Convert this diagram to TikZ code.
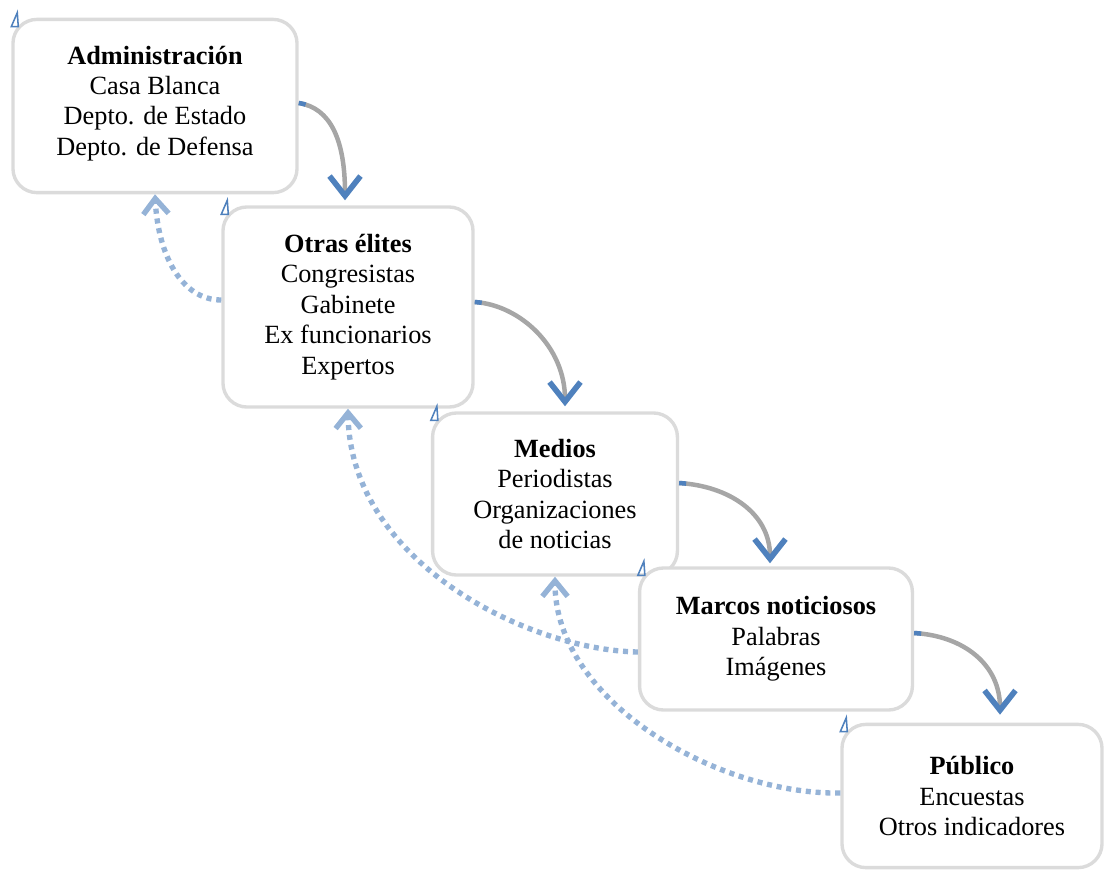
\documentclass[tikz,border=0pt]{standalone}
\usepackage{fontspec}
\setmainfont{Liberation Serif}
\usetikzlibrary{arrows.meta,calc}
\definecolor{accent}{HTML}{4F81BD}
\definecolor{soft}{HTML}{95B3D7}
\definecolor{flowgray}{HTML}{A6A6A6}

\begin{document}
\begin{tikzpicture}[x=0.025cm,y=-0.025cm,
  box/.style={draw=black!14,line width=2.4pt,rounded corners=0.6cm,fill=white,align=center,inner sep=0pt,font=\fontsize{18.7}{21.6}\selectfont},
  flow/.style={flowgray,line width=3.2pt,-{Straight Barb[color=accent,length=14pt,width=22pt,line width=4pt]},
    postaction={draw=accent,dash pattern=on 5pt off 2000pt,-}},
  back/.style={soft,line width=3.8pt,dash pattern=on 3.6pt off 3.4pt,-{Straight Barb[length=11pt,width=18pt,line width=3.8pt]}},
  anchormark/.style={accent,line width=1.1pt,line join=miter}]
\useasboundingbox (0,0) rectangle (1113,870);

\node[box,minimum width=7.1cm,minimum height=4.33cm] (adm) at (155,106) {\textbf{Administración}\\Casa Blanca\\Depto. de Estado\\Depto. de Defensa\\[-14pt]};
\node[box,minimum width=6.25cm,minimum height=5cm] (eli) at (348,307) {\textbf{Otras élites}\\Congresistas\\Gabinete\\Ex funcionarios\\Expertos};
\node[box,minimum width=6.12cm,minimum height=4.05cm] (med) at (555,494) {\textbf{Medios}\\Periodistas\\Organizaciones\\de noticias};
\node[box,minimum width=6.82cm,minimum height=3.55cm] (mar) at (776,639) {\textbf{Marcos noticiosos}\\Palabras\\Imágenes};
\node[box,minimum width=6.5cm,minimum height=3.58cm] (pub) at (972,796) {\textbf{Público}\\Encuestas\\Otros indicadores};

\foreach \n in {adm,eli,med,mar,pub}
  \draw[anchormark] ($(\n.north west)+(0,9)$) -- ++(7,0) -- ++(-1,-14) -- cycle;

\draw[flow] ($(adm.east)+(0,-3)$) .. controls +(32,5) and +(0,-60) .. ($(eli.north)+(-3,-5)$);
\draw[flow] ($(eli.east)+(0,-5)$) .. controls +(45,3) and +(0,-60) .. ($(med.north)+(10,-5)$);
\draw[flow] ($(med.east)+(0,-11)$) .. controls +(50,3) and +(0,-50) .. ($(mar.north)+(-6,-3)$);
\draw[flow] ($(mar.east)+(0,-6)$) .. controls +(50,3) and +(0,-50) .. ($(pub.north)+(28,-8)$);

\draw[back] ($(eli.west)+(0,-7)$) .. controls +(-40,0) and +(3,60) .. (adm.south);
\draw[back] ($(mar.west)+(0,13)$) .. controls +(-110,-2) and +(2,153) .. (eli.south);
\draw[back] ($(pub.west)+(0,-3)$) .. controls +(-122,2) and +(0,125) .. (med.south);
\end{tikzpicture}
\end{document}
